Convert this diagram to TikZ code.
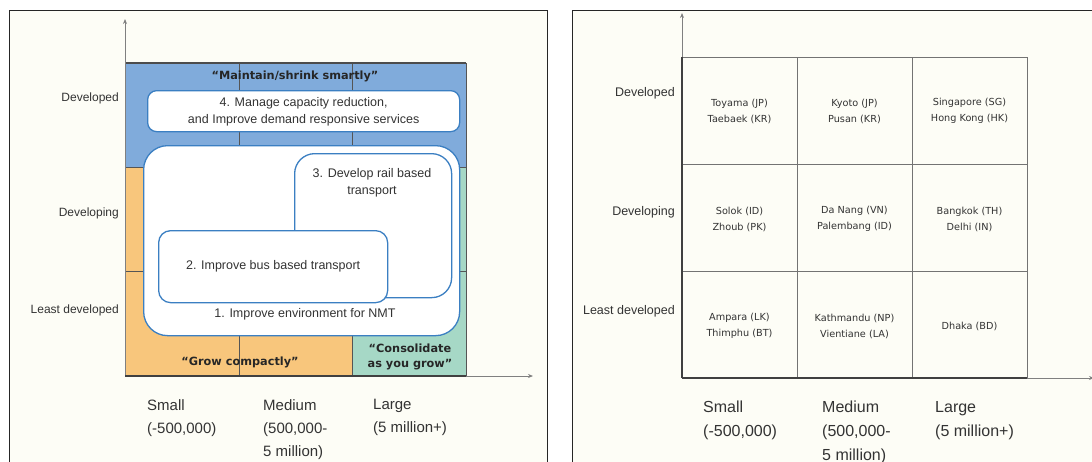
\documentclass[tikz,border=0pt]{standalone}
\usepackage{fontspec}
\setmainfont{Liberation Sans}
\newfontfamily\dv{DejaVu Sans}
\usetikzlibrary{arrows.meta}
\definecolor{cream}{HTML}{FDFDF6}
\definecolor{bluefill}{HTML}{80ABDB}
\definecolor{orfill}{HTML}{F8C67C}
\definecolor{grfill}{HTML}{A6D8C6}
\definecolor{boxblue}{HTML}{3B7FC2}
\definecolor{gridc}{HTML}{555555}
\definecolor{axisc}{HTML}{808080}
\definecolor{txt}{HTML}{333333}
\tikzset{
  panel/.style={draw=black!85, line width=0.8pt, fill=cream},
  gridline/.style={draw=gridc, line width=0.7pt},
  rgrid/.style={draw=black!55, line width=0.9pt},
  axis/.style={draw=axisc, line width=0.8pt, -{Stealth[length=5pt,width=4pt]}},
  sbox/.style={draw=boxblue, line width=1.3pt, fill=white},
  ylab/.style={anchor=east, text=txt, font=\fontsize{12}{14}\selectfont, inner sep=0pt},
  xlab/.style={anchor=north west, text=txt, font=\fontsize{15}{23}\selectfont, align=left, inner sep=0pt},
  rxlab/.style={anchor=north west, text=txt, font=\fontsize{16}{24}\selectfont, align=left, inner sep=0pt},
  btxt/.style={text=txt, font=\fontsize{12.5}{17}\selectfont, align=center, inner sep=0pt},
  qtxt/.style={text=black!85, font=\dv\bfseries\fontsize{11.3}{15.5}\selectfont, align=center, inner sep=0pt},
  city/.style={text=black!80, font=\dv\fontsize{9.7}{16}\selectfont, align=center, inner sep=0pt},
}
\begin{document}
\begin{tikzpicture}[x=1pt,y=-1pt]
\useasboundingbox (0,0) rectangle (1092,461);
\clip (0,0) rectangle (1092,461);
\fill[white] (0,0) rectangle (1092,461);
% ---------------- left panel ----------------
\path[panel] (9,10) rectangle (547,480);
% coloured regions
\fill[bluefill] (125,63) rectangle (466,167);
\fill[orfill] (125,167) rectangle (352,376);
\fill[grfill] (352,167) rectangle (466,376);
% grid lines
\draw[gridline] (239,63) -- (239,376) (352,63) -- (352,376) (466,63) -- (466,376);
\draw[gridline] (125,167) -- (466,167) (125,271) -- (466,271);
\draw[draw=black!70, line width=1.6pt] (125,63) -- (466,63);
% axes
\coordinate (lo) at (125,376);
\coordinate (ly) at (125,19);
\coordinate (lx) at (533,376);
\coordinate (lg) at (466,376);
\draw[axis] (lo) -- (ly);
\draw[axis] (lo) -- (lx);
\draw[draw=black!75, line width=1.6pt] (lo) -- (lg);
% boxes
\node[sbox, rounded corners=9pt, minimum width=312pt, minimum height=41pt, anchor=north west] (b4) at (147,90) {};
\node[btxt] (t4) at ([yshift=-1pt]b4.center) {4. Manage capacity reduction,\\and Improve demand responsive services};
\node[sbox, rounded corners=24pt, minimum width=316pt, minimum height=190pt, anchor=north west] (b1) at (143,145) {};
\node[sbox, rounded corners=20pt, minimum width=157pt, minimum height=144pt, anchor=north west] (b3) at (294,153) {};
\node[sbox, rounded corners=12pt, minimum width=229pt, minimum height=72pt, anchor=north west] (b2) at (158,230) {};
\node[btxt] (t1) at (305,314) {1. Improve environment for NMT};
\node[btxt] (t3) at (372,183) {3. Develop rail based\\transport};
\node[btxt] (t2) at (b2.center) {2. Improve bus based transport};
% quotes
\node[qtxt] (qm) at (295,76) {“Maintain/shrink smartly”};
\node[qtxt] (qg) at (240,362) {“Grow compactly”};
\node[qtxt] (qc) at (410,357) {“Consolidate\\as you grow”};
% axis labels
\node[ylab] (ld1) at (119,98) {Developed};
\node[ylab] (ld2) at (119,213) {Developing};
\node[ylab] (ld3) at (119,310) {Least developed};
\node[xlab] (lx1) at (147,399) {Small\\(-500,000)};
\node[xlab] (lx2) at (263,399) {Medium\\(500,000-\\5 million)};
\node[xlab] (lx3) at (373,399) {Large\\(5 million+)};
% ---------------- right panel ----------------
\path[panel] (572,10) rectangle (1110,480);
\draw[rgrid] (682,57) rectangle (1027,378);
\draw[rgrid] (797,57) -- (797,378) (912,57) -- (912,378);
\draw[rgrid] (682,164) -- (1027,164) (682,271) -- (1027,271);
\coordinate (ro) at (682,378);
\coordinate (ry) at (682,13);
\coordinate (rx) at (1094,378);
\coordinate (rg) at (1027,378);
\draw[axis] (ro) -- (ry);
\draw[axis] (ro) -- (rx);
\draw[draw=black!75, line width=1.6pt] (ro) -- (rg);
\draw[draw=black!75, line width=1.2pt] (ro) -- (682,57);
\node[ylab, font=\fontsize{12.5}{14}\selectfont] (rd1) at (675,93) {Developed};
\node[ylab, font=\fontsize{12.5}{14}\selectfont] (rd2) at (675,212) {Developing};
\node[ylab, font=\fontsize{12.5}{14}\selectfont] (rd3) at (675,311) {Least developed};
\node[city] (c11) at (739.5,111) {Toyama (JP)\\Taebaek (KR)};
\node[city] (c12) at (854.5,111) {Kyoto (JP)\\Pusan (KR)};
\node[city] (c13) at (969.5,111) {Singapore (SG)\\Hong Kong (HK)};
\node[city] (c21) at (739.5,219) {Solok (ID)\\Zhoub (PK)};
\node[city] (c22) at (854.5,219) {Da Nang (VN)\\Palembang (ID)};
\node[city] (c23) at (969.5,219) {Bangkok (TH)\\Delhi (IN)};
\node[city] (c31) at (739.5,326) {Ampara (LK)\\Thimphu (BT)};
\node[city] (c32) at (854.5,326) {Kathmandu (NP)\\Vientiane (LA)};
\node[city] (c33) at (969.5,326) {Dhaka (BD)};
\node[rxlab] (rx1) at (703,401) {Small\\(-500,000)};
\node[rxlab] (rx2) at (822,401) {Medium\\(500,000-\\5 million)};
\node[rxlab] (rx3) at (935,401) {Large\\(5 million+)};
\end{tikzpicture}
\end{document}
